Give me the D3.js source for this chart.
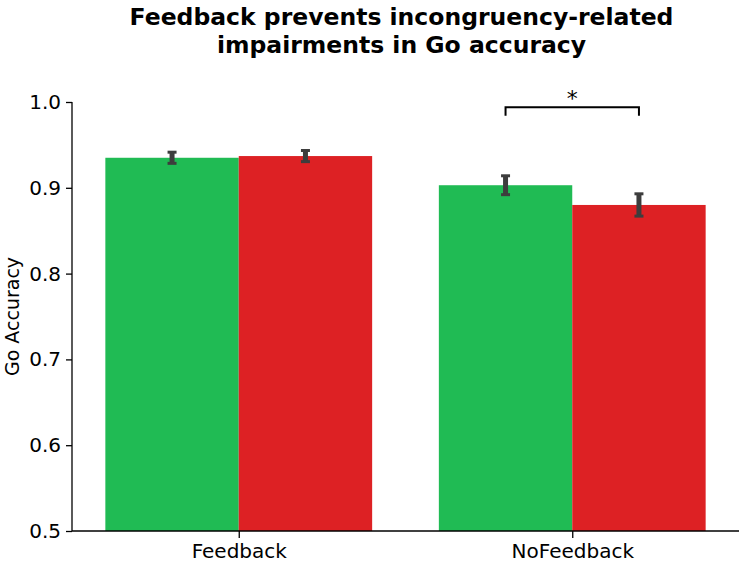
<!DOCTYPE html>
<html>
<head>
<meta charset="utf-8">
<script src="https://cdn.jsdelivr.net/npm/d3@7"></script>
<style>
  body { margin: 0; background: #fff; }
  text { font-family: "DejaVu Sans", sans-serif; }
</style>
</head>
<body>
<div class="root"></div>
<script>
const categories = ['Feedback', 'NoFeedback']
const conditions = ['congruent', 'incongruent']
const congruentValues = [0.935, 0.903]
const incongruentValues = [0.937, 0.880]
const congruentErr = [0.0065, 0.011]
const incongruentErr = [0.0065, 0.013]
const yTicks = [0.5, 0.6, 0.7, 0.8, 0.9, 1.0]
const colors = ['#20bb54', '#dd2124']

const width = 739
    , height = 563
    , margin = { top: 102, right: 0, bottom: 32, left: 72 }

const svg = d3.select('.root')
              .append('svg')
              .attr('width', width)
              .attr('height', height)

const scaleX = d3.scaleLinear()
                 .domain([-0.5, 1.5])
                 .range([margin.left, width - margin.right])

const scaleY = d3.scaleLinear()
                 .domain([0.5, 1.0])
                 .range([height - margin.bottom, margin.top])

const barWidth = 0.4
const rows = []
categories.forEach((c, i) => {
  rows.push({ x: i - barWidth, value: congruentValues[i], err: congruentErr[i], color: colors[0] })
  rows.push({ x: i, value: incongruentValues[i], err: incongruentErr[i], color: colors[1] })
})

// bars
svg.append('g')
   .selectAll('rect')
   .data(rows)
   .enter()
   .append('rect')
   .attr('x', d => scaleX(d.x))
   .attr('width', scaleX(barWidth) - scaleX(0))
   .attr('y', d => scaleY(d.value))
   .attr('height', d => scaleY(0.5) - scaleY(d.value))
   .attr('fill', d => d.color)

// error bars
const errs = svg.append('g').attr('stroke', '#3d3d3d')
rows.forEach(d => {
  const cx = scaleX(d.x + barWidth / 2)
  errs.append('line')
      .attr('x1', cx).attr('x2', cx)
      .attr('y1', scaleY(d.value + d.err)).attr('y2', scaleY(d.value - d.err))
      .attr('stroke-width', 5)
  ;[d.value + d.err, d.value - d.err].forEach(v => {
    errs.append('line')
        .attr('x1', cx - 4.5).attr('x2', cx + 4.5)
        .attr('y1', scaleY(v)).attr('y2', scaleY(v))
        .attr('stroke-width', 3)
  })
})

// axes
const yAxis = d3.axisLeft(scaleY)
                .tickValues(yTicks)
                .tickFormat(d3.format('.1f'))
                .tickSize(6)
                .tickPadding(5)

const yG = svg.append('g')
              .attr('transform', `translate(${margin.left},0)`)
              .call(yAxis)

const xAxis = d3.axisBottom(scaleX)
                .tickValues([0, 1])
                .tickFormat((d, i) => categories[i])
                .tickSize(7)
                .tickPadding(6)

const xG = svg.append('g')
              .attr('transform', `translate(0,${height - margin.bottom})`)
              .call(xAxis)

;[yG, xG].forEach(g => {
  g.selectAll('text').attr('font-size', 20).attr('fill', '#000')
                     .attr('font-family', '"DejaVu Sans", sans-serif')
  g.selectAll('line').attr('stroke', '#000').attr('stroke-width', 1.3)
  g.select('.domain').attr('stroke', '#000').attr('stroke-width', 1.3)
   .attr('d', null)
})
yG.select('.domain').attr('d', `M0,${scaleY(0.5)}V${scaleY(1.0)}`)
xG.select('.domain').attr('d', `M${margin.left},0H${width}`)

svg.append('text')
   .attr('transform', `translate(19,${scaleY(0.75)}) rotate(-90)`)
   .attr('text-anchor', 'middle')
   .attr('font-size', 19)
   .text('Go Accuracy')

// significance bracket
const b1 = scaleX(1 - barWidth / 2)
    , b2 = scaleX(1 + barWidth / 2)
    , by = scaleY(0.994)
    , bLow = scaleY(0.984)
svg.append('path')
   .attr('d', `M${b1},${bLow}V${by}H${b2}V${bLow}`)
   .attr('fill', 'none')
   .attr('stroke', '#000')
   .attr('stroke-width', 2)
svg.append('text')
   .attr('x', (b1 + b2) / 2)
   .attr('y', by - 1)
   .attr('text-anchor', 'middle')
   .attr('font-size', 22)
   .text('*')

// title
const titleX = (scaleX(-0.5) + scaleX(1.5)) / 2 - 4
;['Feedback prevents incongruency-related', 'impairments in Go accuracy'].forEach((t, i) => {
  svg.append('text')
     .attr('x', titleX)
     .attr('y', 25 + i * 28)
     .attr('text-anchor', 'middle')
     .attr('font-size', 23.5)
     .attr('font-weight', 'bold')
     .text(t)
})
</script>
</body>
</html>
